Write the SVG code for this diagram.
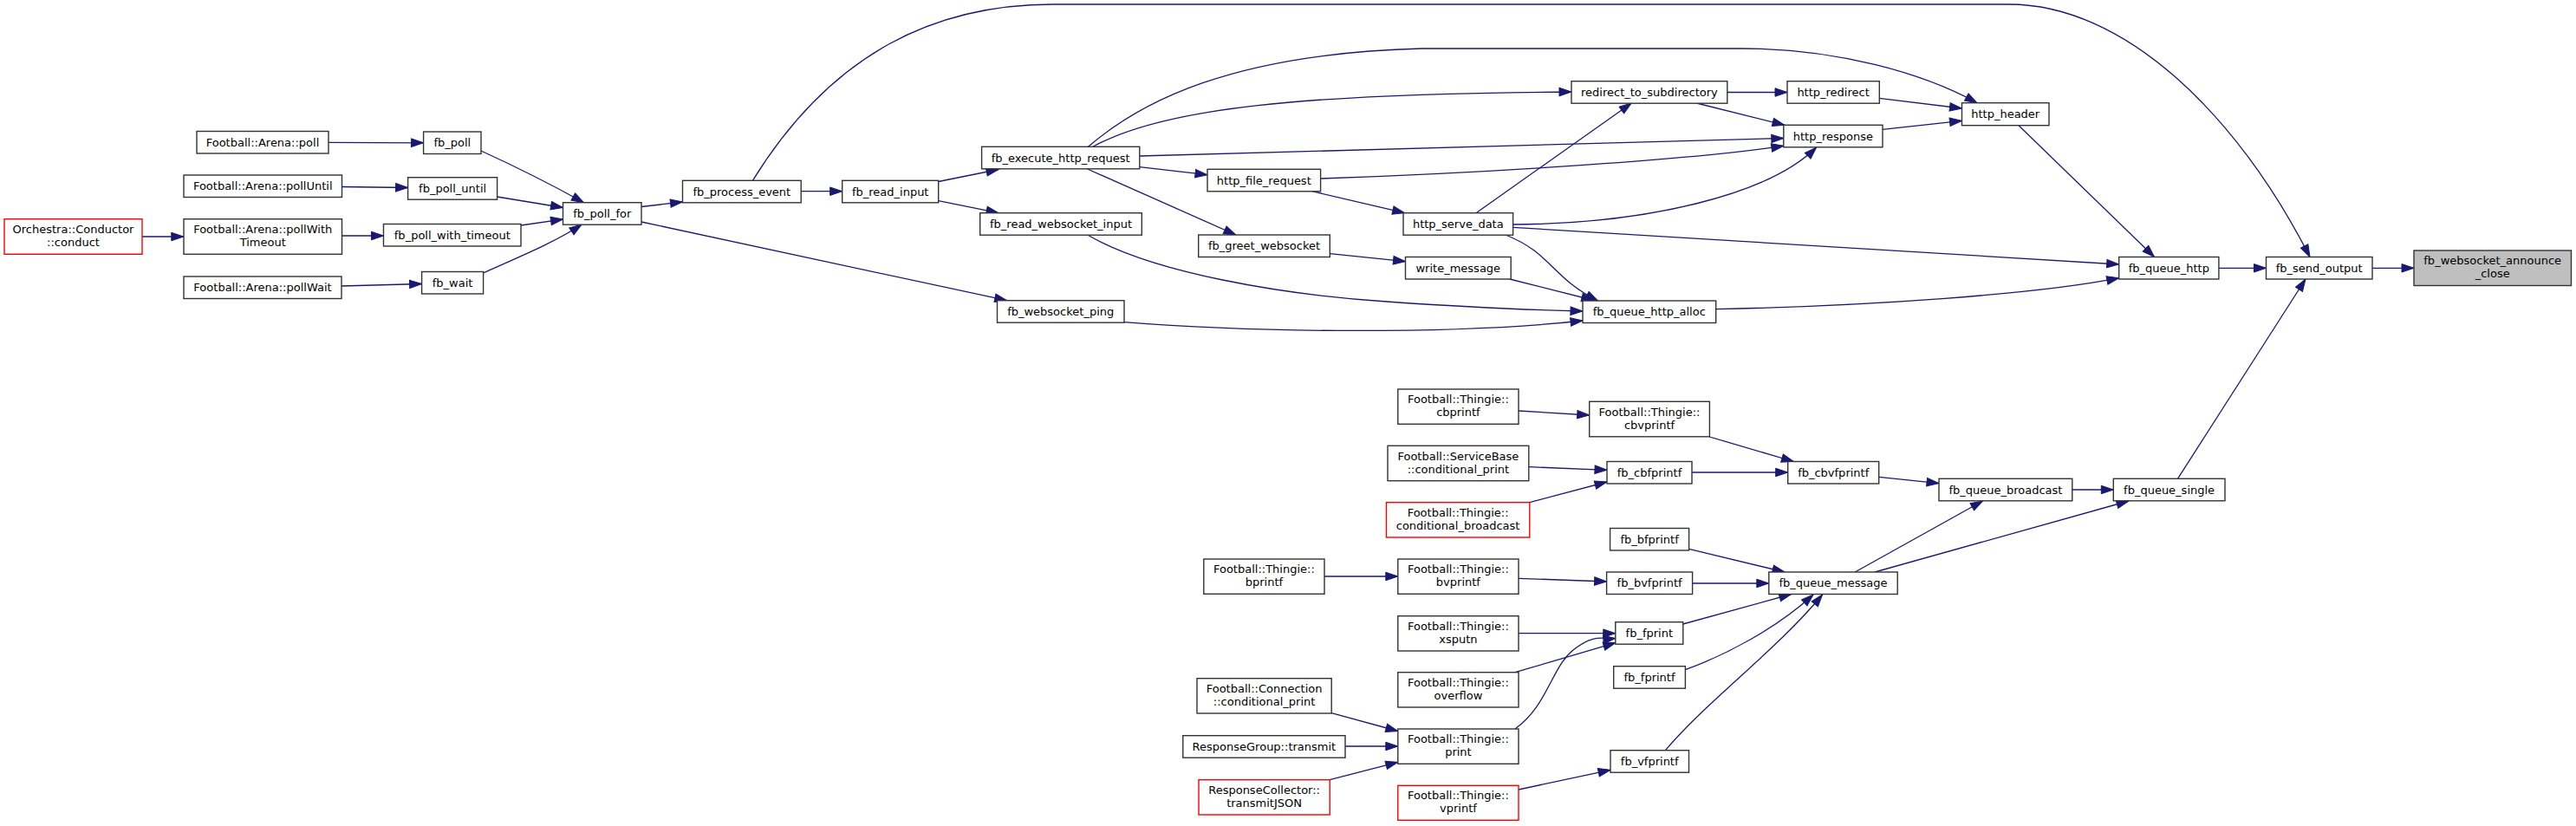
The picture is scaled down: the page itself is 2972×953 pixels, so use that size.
<svg xmlns="http://www.w3.org/2000/svg" width="2972" height="953" viewBox="0 0 2972 953">
<defs>
<marker id="ah" markerUnits="userSpaceOnUse" markerWidth="15" markerHeight="11" refX="14" refY="4.75" orient="auto" overflow="visible">
<path d="M0,0 L14,4.75 L0,9.5 Z" fill="#191970" stroke="#191970" stroke-width="1"/>
</marker>
<style>
.n rect{fill:#fff;stroke:#333333;stroke-width:1.4}
.n.red rect{stroke:#ff0000}
.n.root rect{fill:#bfbfbf;stroke:#333333}
.n text{font-family:"DejaVu Sans","Liberation Sans",sans-serif;font-size:13px;fill:#000;text-anchor:middle}
#edges path{fill:none;stroke:#191970;stroke-width:1.3;marker-end:url(#ah)}
</style>
</defs>
<rect width="2972" height="953" fill="#fff"/>
<g id="edges">
<path d="M163.8,273 L211.8,273"/>
<path d="M379,164.3 L488.6,164.8"/>
<path d="M394.5,215.5 L470.6,216.5"/>
<path d="M394.5,272 L442.5,272"/>
<path d="M394,330 L486.6,327.5"/>
<path d="M555,174 C590,190 640,215 673.5,233.7"/>
<path d="M573.4,227 L649.5,239.5"/>
<path d="M601,260 L649.5,253"/>
<path d="M557.4,315 C590,300 640,280 671,259"/>
<path d="M740,238.5 L787.5,233"/>
<path d="M740,256 L1161.7,346.7"/>
<path d="M924.2,220.7 L971.7,220.7"/>
<path d="M868.4,208.3 C960,60 1080,5 1215,5 L2318,5 C2450,5 2580,130 2665,296.5"/>
<path d="M1082.7,209.5 L1152,195.5"/>
<path d="M1082.7,231.7 L1152,245.7"/>
<path d="M1255.5,169.3 C1315,118 1420,62 1640,56 L2010,56 C2120,56 2220,85 2281,118.7"/>
<path d="M1261,169.3 C1340,125 1500,108 1813,106"/>
<path d="M1314.8,180 L2057.8,159.5"/>
<path d="M1314.8,192.7 L1393,201.7"/>
<path d="M1254.7,195 L1425.9,271"/>
<path d="M1514,220.7 L1620.6,245.7"/>
<path d="M1523.6,206 C1700,200 1950,185 2057.8,168.3"/>
<path d="M1534.3,292.7 L1621.5,301.7"/>
<path d="M1254.7,271 C1330,315 1480,340 1600,348 C1700,355 1780,358 1826,359"/>
<path d="M1297,371.7 C1450,384 1680,386 1826,370"/>
<path d="M1703,245.7 L1882.3,119"/>
<path d="M1745.6,259 C1900,258 2040,225 2095.6,170"/>
<path d="M1745.6,262.3 L2444.7,305"/>
<path d="M1737,271 C1790,292 1790,320 1843.5,347"/>
<path d="M1741.7,322 L1838.7,346.5"/>
<path d="M1992.8,106.5 L2062,106.5"/>
<path d="M1957.4,119 L2059,144.3"/>
<path d="M2168.3,113.3 L2263.5,125"/>
<path d="M2172,149.3 L2263.5,139.3"/>
<path d="M2329,144.7 L2485.5,296.5"/>
<path d="M1979.7,356.7 C2150,353 2350,340 2444.7,320.7"/>
<path d="M2559.9,309.3 L2614.5,309.3"/>
<path d="M2737,309.3 L2785,309.3"/>
<path d="M2512.5,552.3 L2660,322"/>
<path d="M1752,474 L1833.7,479"/>
<path d="M1972.4,504 L2069.4,532.5"/>
<path d="M1763.8,538.7 L1854,542.3"/>
<path d="M1764.8,579.7 L1854,556"/>
<path d="M1952,545 L2062.7,545"/>
<path d="M2167.7,550.3 L2237,557.7"/>
<path d="M2390.8,565 L2438.3,565"/>
<path d="M1948.5,633.3 L2059,660"/>
<path d="M1528,665 L1612.8,665"/>
<path d="M1752,667.3 L1853.6,671"/>
<path d="M1952.6,673 L2040.8,673"/>
<path d="M1941.8,720 L2066.8,685.5"/>
<path d="M1944.4,772.7 C1990,756 2050,725 2092,686"/>
<path d="M1921.4,865.7 C1970,808 2050,750 2102.6,686"/>
<path d="M2140.2,660 L2287.5,578"/>
<path d="M2163.1,660 L2456,578"/>
<path d="M1752,730.7 L1863.8,730.7"/>
<path d="M1748,775.7 L1863.8,741.7"/>
<path d="M1748,841 C1785,815 1790,770 1815,750 S1850,738 1863.8,736.5"/>
<path d="M1536.2,822.7 L1612.8,843.5"/>
<path d="M1552,861 L1612.8,861"/>
<path d="M1534.2,899.7 L1612.8,879.3"/>
<path d="M1752,911 L1858,888.3"/>
</g>
<g id="n_orchestra" class="n red"><rect x="5" y="252.7" width="159" height="40.6"/><text x="84.5" y="269">Orchestra::Conductor</text><text x="84.5" y="284">::conduct</text></g>
<g id="n_arena_poll" class="n"><rect x="227" y="151.5" width="152" height="25.5"/><text x="303" y="168.8">Football::Arena::poll</text></g>
<g id="n_arena_polluntil" class="n"><rect x="212" y="202" width="182.5" height="25.5"/><text x="303.2" y="219.3">Football::Arena::pollUntil</text></g>
<g id="n_arena_pollwithtimeout" class="n"><rect x="212" y="252.7" width="182.5" height="40.6"/><text x="303.2" y="269">Football::Arena::pollWith</text><text x="303.2" y="284">Timeout</text></g>
<g id="n_arena_pollwait" class="n"><rect x="212" y="319" width="182" height="25.5"/><text x="303" y="336.3">Football::Arena::pollWait</text></g>
<g id="n_fb_poll" class="n"><rect x="488.6" y="152" width="66.4" height="25.5"/><text x="521.8" y="169.3">fb_poll</text></g>
<g id="n_fb_poll_until" class="n"><rect x="470.6" y="204.7" width="103" height="25.5"/><text x="522.1" y="222">fb_poll_until</text></g>
<g id="n_fb_poll_with_timeout" class="n"><rect x="442.5" y="258.5" width="158.5" height="25.5"/><text x="521.8" y="275.8">fb_poll_with_timeout</text></g>
<g id="n_fb_wait" class="n"><rect x="486.6" y="313.5" width="71" height="25.5"/><text x="522.1" y="330.8">fb_wait</text></g>
<g id="n_fb_poll_for" class="n"><rect x="649.5" y="233.7" width="90.5" height="25.5"/><text x="694.8" y="251">fb_poll_for</text></g>
<g id="n_fb_process_event" class="n"><rect x="787.5" y="208.3" width="136.7" height="25.5"/><text x="855.8" y="225.6">fb_process_event</text></g>
<g id="n_fb_read_input" class="n"><rect x="971.7" y="208.3" width="111" height="25.5"/><text x="1027.2" y="225.6">fb_read_input</text></g>
<g id="n_fb_execute_http_request" class="n"><rect x="1132.6" y="169.3" width="182.2" height="25.5"/><text x="1223.7" y="186.6">fb_execute_http_request</text></g>
<g id="n_fb_read_websocket_input" class="n"><rect x="1130.7" y="245.7" width="186.6" height="25.5"/><text x="1224" y="263">fb_read_websocket_input</text></g>
<g id="n_fb_websocket_ping" class="n"><rect x="1150.5" y="346.7" width="146.5" height="25.5"/><text x="1223.7" y="364">fb_websocket_ping</text></g>
<g id="n_http_file_request" class="n"><rect x="1393" y="195.3" width="130.6" height="25.5"/><text x="1458.3" y="212.6">http_file_request</text></g>
<g id="n_fb_greet_websocket" class="n"><rect x="1382.7" y="271" width="151.6" height="25.5"/><text x="1458.5" y="288.3">fb_greet_websocket</text></g>
<g id="n_http_serve_data" class="n"><rect x="1619" y="245.7" width="126.6" height="25.5"/><text x="1682.3" y="263">http_serve_data</text></g>
<g id="n_write_message" class="n"><rect x="1621.5" y="296.5" width="121.7" height="25.5"/><text x="1682.3" y="313.8">write_message</text></g>
<g id="n_fb_queue_http_alloc" class="n"><rect x="1826" y="347" width="153.7" height="25.5"/><text x="1902.8" y="364.3">fb_queue_http_alloc</text></g>
<g id="n_redirect_to_subdirectory" class="n"><rect x="1813" y="93.7" width="179.8" height="25.5"/><text x="1902.9" y="111">redirect_to_subdirectory</text></g>
<g id="n_http_redirect" class="n"><rect x="2062" y="93.7" width="106.3" height="25.5"/><text x="2115.1" y="111">http_redirect</text></g>
<g id="n_http_response" class="n"><rect x="2057.8" y="144.3" width="114.2" height="25.5"/><text x="2114.9" y="161.6">http_response</text></g>
<g id="n_http_header" class="n"><rect x="2263.5" y="118.7" width="100.5" height="26"/><text x="2313.7" y="136.2">http_header</text></g>
<g id="n_fb_queue_http" class="n"><rect x="2444.7" y="296.5" width="115.2" height="25.5"/><text x="2502.3" y="313.8">fb_queue_http</text></g>
<g id="n_fb_send_output" class="n"><rect x="2614.5" y="296.5" width="122.5" height="25.5"/><text x="2675.7" y="313.8">fb_send_output</text></g>
<g id="n_fb_websocket_announce_close" class="n root"><rect x="2785" y="289" width="181.5" height="40.5"/><text x="2875.7" y="305.2">fb_websocket_announce</text><text x="2875.7" y="320.2">_close</text></g>
<g id="n_thingie_cbprintf" class="n"><rect x="1612.8" y="449" width="139.2" height="40.3"/><text x="1682.4" y="465.2">Football::Thingie::</text><text x="1682.4" y="480.2">cbprintf</text></g>
<g id="n_thingie_cbvprintf" class="n"><rect x="1833.7" y="463.3" width="138.7" height="40.5"/><text x="1903" y="479.5">Football::Thingie::</text><text x="1903" y="494.5">cbvprintf</text></g>
<g id="n_servicebase_conditional_print" class="n"><rect x="1601" y="514.3" width="162.8" height="40.4"/><text x="1682.4" y="530.5">Football::ServiceBase</text><text x="1682.4" y="545.5">::conditional_print</text></g>
<g id="n_fb_cbfprintf" class="n"><rect x="1854" y="532.5" width="98" height="25.5"/><text x="1903" y="549.8">fb_cbfprintf</text></g>
<g id="n_fb_cbvfprintf" class="n"><rect x="2062.7" y="532.5" width="105" height="25.5"/><text x="2115.2" y="549.8">fb_cbvfprintf</text></g>
<g id="n_thingie_conditional_broadcast" class="n red"><rect x="1599.5" y="579.7" width="165.3" height="40.3"/><text x="1682.1" y="595.9">Football::Thingie::</text><text x="1682.1" y="610.9">conditional_broadcast</text></g>
<g id="n_fb_bfprintf" class="n"><rect x="1857.6" y="609.5" width="91" height="25.5"/><text x="1903.1" y="626.8">fb_bfprintf</text></g>
<g id="n_thingie_bprintf" class="n"><rect x="1388.8" y="645" width="139.2" height="40.3"/><text x="1458.4" y="661.2">Football::Thingie::</text><text x="1458.4" y="676.2">bprintf</text></g>
<g id="n_thingie_bvprintf" class="n"><rect x="1612.8" y="645" width="139.2" height="40.3"/><text x="1682.4" y="661.2">Football::Thingie::</text><text x="1682.4" y="676.2">bvprintf</text></g>
<g id="n_fb_bvfprintf" class="n"><rect x="1853.6" y="660" width="99" height="25.5"/><text x="1903.1" y="677.3">fb_bvfprintf</text></g>
<g id="n_fb_queue_message" class="n"><rect x="2040.8" y="660" width="148.4" height="25.5"/><text x="2115" y="677.3">fb_queue_message</text></g>
<g id="n_fb_queue_broadcast" class="n"><rect x="2237" y="552.3" width="153.8" height="25.5"/><text x="2313.9" y="569.6">fb_queue_broadcast</text></g>
<g id="n_fb_queue_single" class="n"><rect x="2438.3" y="552.3" width="128.7" height="25.5"/><text x="2502.6" y="569.6">fb_queue_single</text></g>
<g id="n_thingie_xsputn" class="n"><rect x="1612.8" y="710.7" width="139.2" height="40.3"/><text x="1682.4" y="726.9">Football::Thingie::</text><text x="1682.4" y="741.9">xsputn</text></g>
<g id="n_fb_fprint" class="n"><rect x="1863.8" y="717.7" width="78" height="25.5"/><text x="1902.8" y="735">fb_fprint</text></g>
<g id="n_fb_fprintf" class="n"><rect x="1861.7" y="768.7" width="82.7" height="25.5"/><text x="1903" y="786">fb_fprintf</text></g>
<g id="n_thingie_overflow" class="n"><rect x="1612.8" y="775.7" width="139.2" height="40.3"/><text x="1682.4" y="791.9">Football::Thingie::</text><text x="1682.4" y="806.9">overflow</text></g>
<g id="n_connection_conditional_print" class="n"><rect x="1381" y="782.7" width="155.2" height="40.3"/><text x="1458.6" y="798.9">Football::Connection</text><text x="1458.6" y="813.9">::conditional_print</text></g>
<g id="n_responsegroup_transmit" class="n"><rect x="1364.8" y="848.7" width="187.2" height="25.5"/><text x="1458.4" y="866">ResponseGroup::transmit</text></g>
<g id="n_thingie_print" class="n"><rect x="1612.8" y="841" width="139.2" height="40.3"/><text x="1682.4" y="857.2">Football::Thingie::</text><text x="1682.4" y="872.2">print</text></g>
<g id="n_responsecollector_transmitjson" class="n red"><rect x="1383" y="899.7" width="151.2" height="40.3"/><text x="1458.6" y="915.9">ResponseCollector::</text><text x="1458.6" y="930.9">transmitJSON</text></g>
<g id="n_fb_vfprintf" class="n"><rect x="1858" y="865.7" width="90.5" height="25.5"/><text x="1903.2" y="883">fb_vfprintf</text></g>
<g id="n_thingie_vprintf" class="n red"><rect x="1612.8" y="906.3" width="139.2" height="40"/><text x="1682.4" y="922.4">Football::Thingie::</text><text x="1682.4" y="937.4">vprintf</text></g>
</svg>
